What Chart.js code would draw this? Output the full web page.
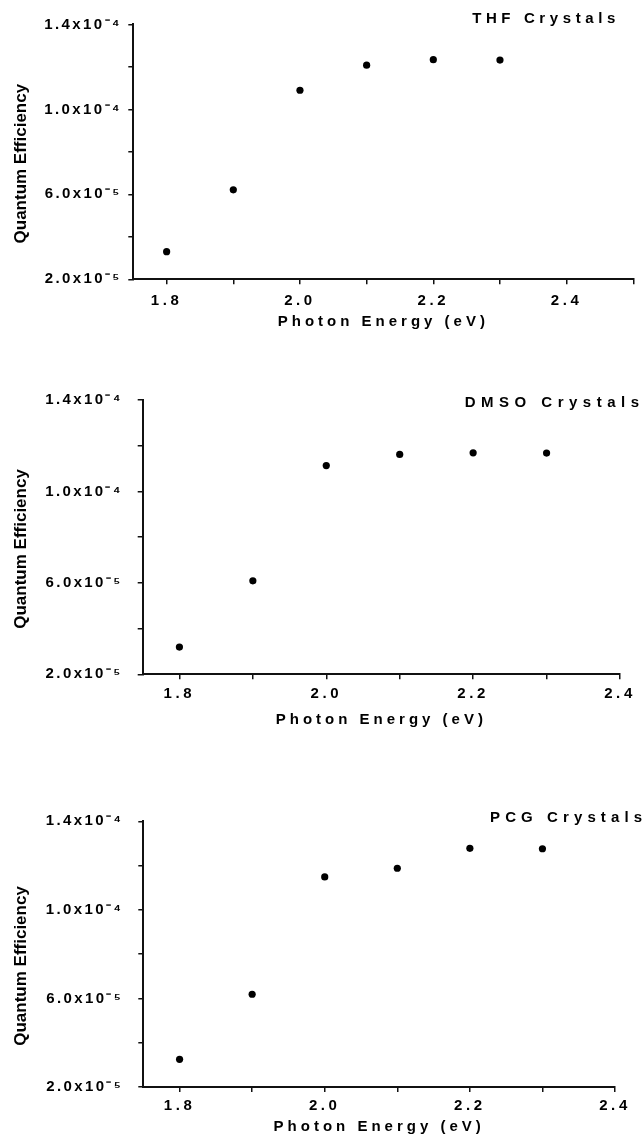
<!DOCTYPE html>
<html lang="en">
<head>
<meta charset="UTF-8" />
<title>Quantum efficiency vs photon energy</title>
<script src="https://cdn.jsdelivr.net/npm/chart.js"></script>
<style>
  body { margin: 0; background: #fff; }
  .panel { position: absolute; left: 0; }
</style>
</head>
<body>
<canvas id="thf" class="panel" width="642" height="340" style="top:0px"></canvas>
<canvas id="dmso" class="panel" width="642" height="370" style="top:370px"></canvas>
<canvas id="pcg" class="panel" width="642" height="361" style="top:780px"></canvas>

<script>
  // values
  const energies = [1.8, 1.9, 2.0, 2.1, 2.2, 2.3];
  const thfQE = [3.30e-5, 6.21e-5, 1.090e-4, 1.208e-4, 1.234e-4, 1.232e-4];
  const dmsoQE = [3.19e-5, 6.09e-5, 1.113e-4, 1.162e-4, 1.169e-4, 1.168e-4];
  const pcgQE = [3.25e-5, 6.19e-5, 1.149e-4, 1.188e-4, 1.278e-4, 1.276e-4];
  const panelTitles = ["THF Crystals", "DMSO Crystals", "PCG Crystals"];

  const xTickValues = [1.8, 1.9, 2.0, 2.1, 2.2, 2.3, 2.4, 2.5];
  const xTickLabels = ["1.8", "", "2.0", "", "2.2", "", "2.4", ""];
  const yTickValues = [2e-5, 4e-5, 6e-5, 8e-5, 1.0e-4, 1.2e-4, 1.4e-4];
  const yTickLabels = ["2.0x10⁻⁵", "", "6.0x10⁻⁵", "", "1.0x10⁻⁴", "", "1.4x10⁻⁴"];

  const xTitle = "Photon Energy (eV)";
  const yTitle = "Quantum Efficiency     "; // trailing spaces push it down a bit

  const FONT = '"Liberation Sans", Arial, sans-serif';

  function labelFor(values, labels, v) {
    const i = values.findIndex((t) => Math.abs(t - v) < 1e-9);
    return i < 0 ? "" : labels[i];
  }

  // canvas letterSpacing per scale part
  function withSpacing(fn, spacing) {
    return function (...args) {
      const ctx = this.ctx;
      const prev = ctx.letterSpacing;
      ctx.letterSpacing = spacing + "px";
      fn.apply(this, args);
      ctx.letterSpacing = prev;
    };
  }
  const letterSpacingPlugin = {
    id: "letterSpacing",
    beforeDraw(chart, args, opts) {
      Object.values(chart.scales).forEach((scale) => {
        if (scale.$spaced) return;
        const sp = opts[scale.id] || {};
        scale.drawLabels = withSpacing(scale.drawLabels, sp.ticks || 0);
        scale.drawTitle = withSpacing(scale.drawTitle, sp.title || 0);
        scale.$spaced = true;
      });
    },
  };

  const cornerTitlePlugin = {
    id: "cornerTitle",
    afterDraw(chart, args, opts) {
      const { ctx, chartArea } = chart;
      ctx.save();
      ctx.font = "bold 15px " + FONT;
      ctx.letterSpacing = opts.spacing + "px";
      ctx.fillStyle = "#000";
      ctx.textAlign = "right";
      ctx.textBaseline = "middle";
      ctx.fillText(opts.text, chartArea.right + opts.dx + opts.spacing, opts.y);
      ctx.restore();
    },
  };

  const panels = [
    { id: "thf", values: thfQE, title: panelTitles[0], xMax: 2.5,
      left: 133.3, right: 633.3, top: 24.4, bottom: 279.3, height: 340,
      yPad: 6.5, xPad: 7.5, xTitlePad: 9, titleDx: -18, titleY: 18.5, titleSp: 4.6 },
    { id: "dmso", values: dmsoQE, title: panelTitles[1], xMax: 2.4,
      left: 142.7, right: 620, top: 30, bottom: 304.3, height: 370,
      yPad: 15, xPad: 5.5, xTitlePad: 11.5, titleDx: 19, titleY: 32.5, titleSp: 5.5 },
    { id: "pcg", values: pcgQE, title: panelTitles[2], xMax: 2.4,
      left: 143.3, right: 615, top: 41.3, bottom: 307, height: 361,
      yPad: 15, xPad: 4.5, xTitlePad: 5.3, titleDx: 27, titleY: 37.5, titleSp: 5.1 },
  ];

  panels.forEach((p) => {
    new Chart(document.getElementById(p.id), {
      type: "scatter",
      data: {
        datasets: [
          {
            data: energies.map((e, i) => ({ x: e, y: p.values[i] })),
            backgroundColor: "#000",
            borderColor: "#000",
            borderWidth: 0,
            pointRadius: 3.6,
          },
        ],
      },
      options: {
        responsive: false,
        animation: false,
        layout: { padding: { top: p.top, right: 642 - p.right, left: 0, bottom: 0 } },
        plugins: {
          legend: { display: false },
          tooltip: { enabled: false },
          letterSpacing: { x: { ticks: 3.6, title: 4 }, y: { ticks: 2.4, title: 0 } },
          cornerTitle: { text: p.title, dx: p.titleDx, y: p.titleY, spacing: p.titleSp },
        },
        scales: {
          x: {
            type: "linear",
            min: 1.75,
            max: p.xMax,
            afterFit: (s) => { s.height = p.height - p.bottom; },
            afterBuildTicks: (s) => {
              s.ticks = xTickValues.filter((v) => v <= p.xMax + 1e-9).map((v) => ({ value: v }));
            },
            border: { display: true, color: "#111", width: 2 },
            grid: { display: true, drawOnChartArea: false, drawTicks: true, tickLength: 5, color: "#111", lineWidth: 1.5 },
            ticks: {
              autoSkip: false,
              maxRotation: 0,
              padding: p.xPad,
              color: "#000",
              font: { family: FONT, size: 15, weight: "bold" },
              callback: (v) => labelFor(xTickValues, xTickLabels, v),
            },
            title: {
              display: true,
              text: xTitle,
              color: "#000",
              font: { family: FONT, size: 15, weight: "bold" },
              padding: { top: 0, bottom: p.xTitlePad },
            },
          },
          y: {
            type: "linear",
            min: 2e-5,
            max: 1.4e-4,
            afterFit: (s) => { s.width = p.left; },
            afterBuildTicks: (s) => {
              s.ticks = yTickValues.map((v) => ({ value: v }));
            },
            border: { display: true, color: "#111", width: 2 },
            grid: { display: true, drawOnChartArea: false, drawTicks: true, tickLength: 5, color: "#111", lineWidth: 1.5 },
            ticks: {
              padding: p.yPad,
              color: "#000",
              font: { family: FONT, size: 15, weight: "bold" },
              callback: (v) => labelFor(yTickValues, yTickLabels, v),
            },
            title: {
              display: true,
              text: yTitle,
              color: "#000",
              font: { family: FONT, size: 17, weight: "bold" },
              padding: { top: 11, bottom: 0 },
            },
          },
        },
      },
      plugins: [letterSpacingPlugin, cornerTitlePlugin],
    });
  });
</script>
</body>
</html>
